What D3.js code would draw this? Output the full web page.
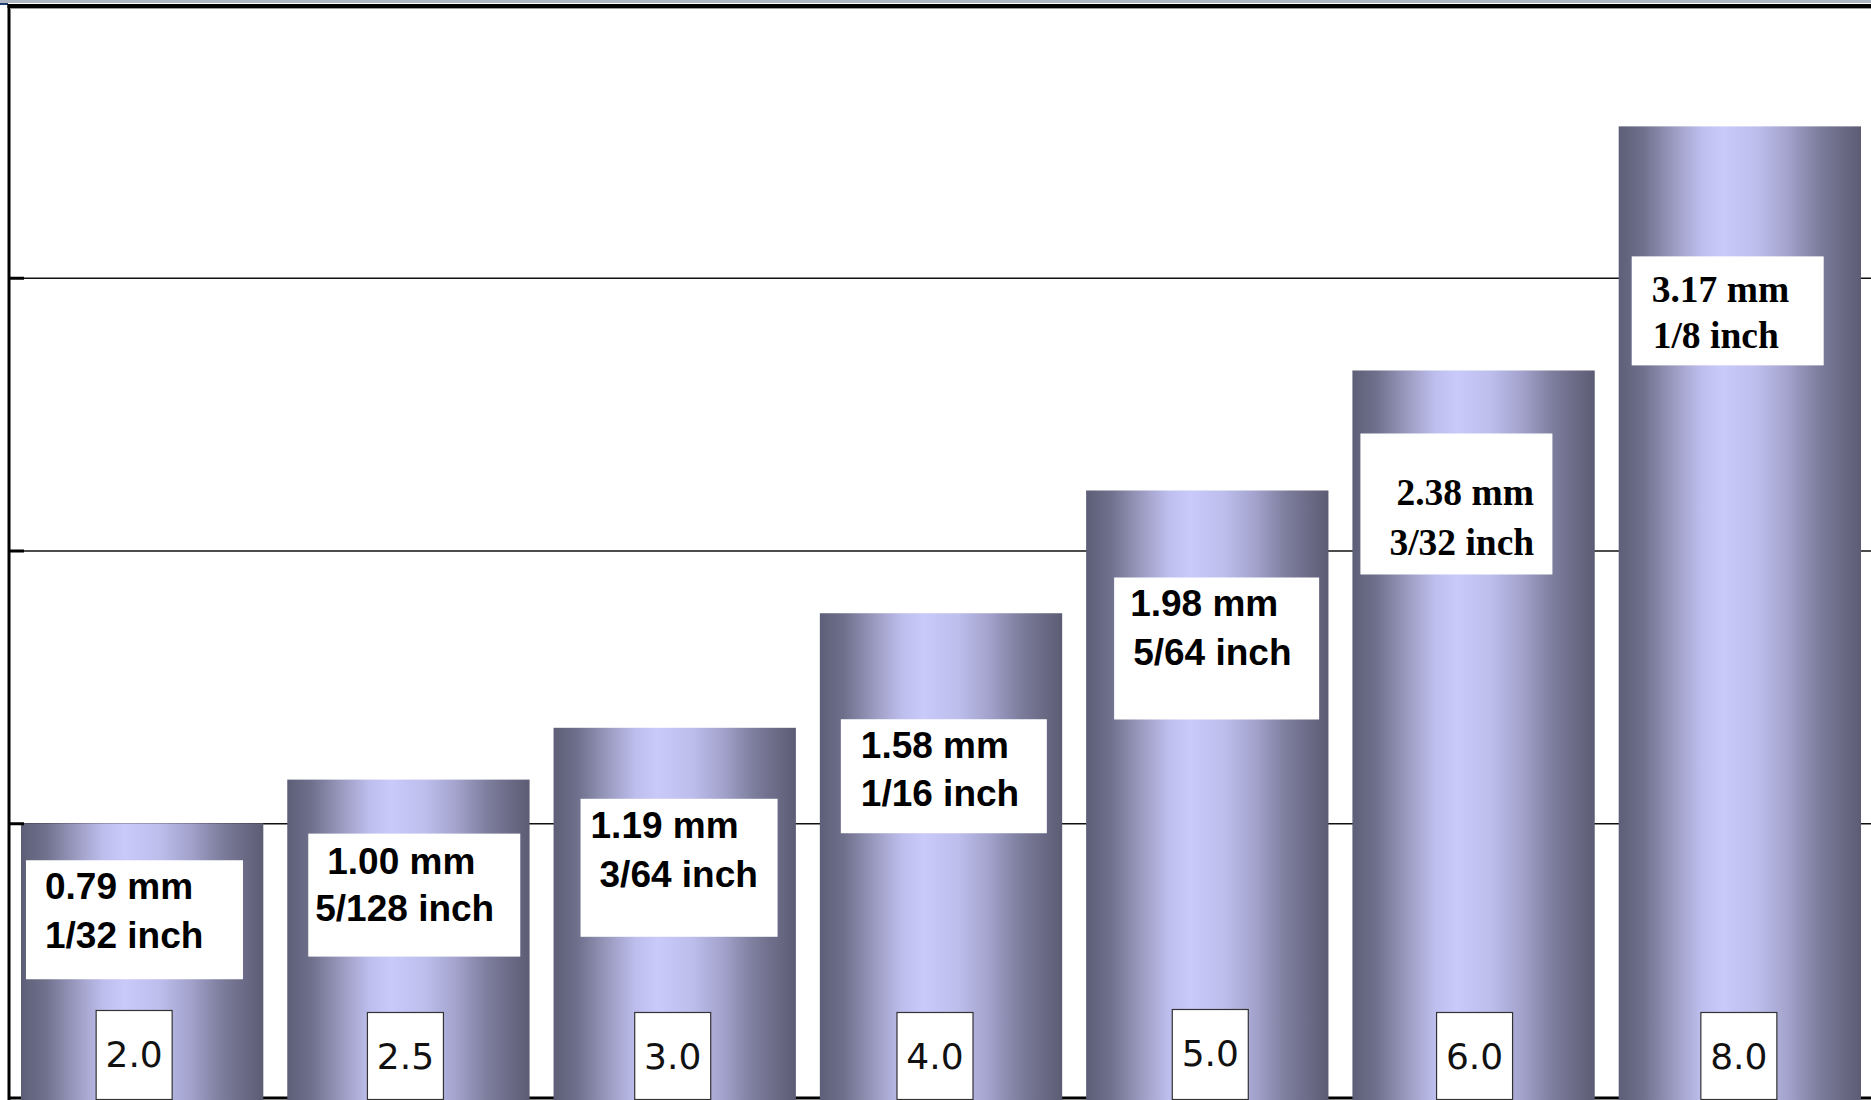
<!DOCTYPE html>
<html>
<head>
<meta charset="utf-8">
<script src="https://cdn.jsdelivr.net/npm/d3@7"></script>
<style>
  html, body { margin: 0; padding: 0; background: #fff; }
  svg { display: block; }
</style>
</head>
<body>
<script>
// data
var sizes = ["2.0", "2.5", "3.0", "4.0", "5.0", "6.0", "8.0"];
var heights = [1.0, 1.16, 1.35, 1.77, 2.22, 2.66, 3.555];
var mmLabels = ["0.79 mm", "1.00 mm", "1.19 mm", "1.58 mm", "1.98 mm", "2.38 mm", "3.17 mm"];
var inchLabels = ["1/32 inch", "5/128 inch", "3/64 inch", "1/16 inch", "5/64 inch", "3/32 inch", "1/8 inch"];
var yTicks = [0, 1, 2, 3, 4];

// layout of the white label boxes: [dx from bar left, dy from bar top, w, h]
var labelBox = [[5, 37, 217, 119], [21, 54, 212, 123], [27, 71, 197, 138], [21, 106, 206, 114],
                [28, 87, 205, 142], [8, 63, 192, 141], [13, 130, 192, 109]];
// text placement inside those boxes: [x1, baseline1, x2, baseline2]
var labelText = [[19, 39, 19, 88], [19, 40, 7, 87], [10, 39, 19, 88], [20, 39, 20, 87],
                 [16, 39, 19, 88], [36, 72, 29, 122], [20, 46, 21, 92]];
var serifLabel = [false, false, false, false, false, true, true];
var sizeBoxDx = [-8, -3, -2, -6, 3, 1, -1];
var sizeBoxTop = [1010, 1012, 1012, 1012, 1009, 1012, 1012];

var width = 1871, height = 1100;

var x = d3.scaleBand()
    .domain(sizes)
    .range([9, 1873])
    .paddingInner(0.09)
    .paddingOuter(0.045);

var y = d3.scaleLinear()
    .domain([0, 4])
    .range([1096, 5]);

var svg = d3.select("body").append("svg")
    .attr("width", width)
    .attr("height", height);

var defs = svg.append("defs");
var grad = defs.append("linearGradient")
    .attr("id", "barGrad")
    .attr("x1", "0").attr("x2", "1").attr("y1", "0").attr("y2", "0");
[[0, "#5d5e77"], [0.1, "#6f708c"], [0.23, "#9c9cc2"], [0.34, "#bebeee"], [0.43, "#c9c9fa"],
 [0.57, "#bebeed"], [0.7, "#a2a2cc"], [0.83, "#7c7c9c"], [1, "#5c5c74"]].forEach(function (s) {
    grad.append("stop").attr("offset", s[0]).attr("stop-color", s[1]);
});

// strip at the very top
svg.append("rect").attr("x", 0).attr("y", 0).attr("width", width).attr("height", 3)
    .attr("fill", "#aeb6c4");
svg.append("rect").attr("x", 0).attr("y", 3).attr("width", 8).attr("height", 2)
    .attr("fill", "#1d3f73");

// gridlines
svg.append("g")
    .attr("class", "grid")
    .attr("transform", "translate(9,0)")
    .call(d3.axisLeft(y).tickValues(yTicks.slice(1, 4)).tickSize(-width).tickFormat(""))
    .call(function (g) { g.select(".domain").remove(); })
    .selectAll("line")
    .attr("stroke", "#111")
    .attr("stroke-width", 1.6);

// bottom axis line
svg.append("line")
    .attr("x1", 9).attr("x2", width)
    .attr("y1", y(0) + 2).attr("y2", y(0) + 2)
    .attr("stroke", "#000").attr("stroke-width", 3);

// bars
var bars = svg.selectAll("g.bar")
    .data(sizes)
    .enter().append("g")
    .attr("class", "bar");

bars.append("rect")
    .attr("x", function (d) { return x(d); })
    .attr("y", function (d, i) { return y(heights[i]); })
    .attr("width", x.bandwidth())
    .attr("height", function (d, i) { return y(0) - y(heights[i]) + 4; })
    .attr("fill", "url(#barGrad)");

// label boxes
bars.append("rect")
    .attr("x", function (d, i) { return x(d) + labelBox[i][0]; })
    .attr("y", function (d, i) { return y(heights[i]) + labelBox[i][1]; })
    .attr("width", function (d, i) { return labelBox[i][2]; })
    .attr("height", function (d, i) { return labelBox[i][3]; })
    .attr("fill", "#fff");

function labelFont(sel) {
    sel.attr("font-family", function (d, i) {
            return serifLabel[i] ? "'Liberation Serif', 'Times New Roman', serif" : "'Liberation Sans', Arial, sans-serif";
        })
        .attr("font-weight", "bold")
        .attr("font-size", function (d, i) { return serifLabel[i] ? 37.5 : 37; })
        .attr("fill", "#000");
}

bars.append("text")
    .attr("x", function (d, i) { return x(d) + labelBox[i][0] + labelText[i][0]; })
    .attr("y", function (d, i) { return y(heights[i]) + labelBox[i][1] + labelText[i][1]; })
    .text(function (d, i) { return mmLabels[i]; })
    .call(labelFont);

bars.append("text")
    .attr("x", function (d, i) { return x(d) + labelBox[i][0] + labelText[i][2]; })
    .attr("y", function (d, i) { return y(heights[i]) + labelBox[i][1] + labelText[i][3]; })
    .text(function (d, i) { return inchLabels[i]; })
    .call(labelFont);

// size boxes at the bottom
var boxW = 76;
bars.append("rect")
    .attr("x", function (d, i) { return x(d) + x.bandwidth() / 2 - boxW / 2 + sizeBoxDx[i]; })
    .attr("y", function (d, i) { return sizeBoxTop[i] + 0.5; })
    .attr("width", boxW)
    .attr("height", function (d, i) { return y(0) + 3 - sizeBoxTop[i]; })
    .attr("fill", "#fff")
    .attr("stroke", "#333")
    .attr("stroke-width", 1.2);

bars.append("text")
    .attr("x", function (d, i) { return x(d) + x.bandwidth() / 2 + sizeBoxDx[i]; })
    .attr("y", function (d, i) { return sizeBoxTop[i] + 57; })
    .attr("text-anchor", "middle")
    .attr("font-family", "'DejaVu Sans', Verdana, sans-serif")
    .attr("font-size", 36)
    .attr("fill", "#111")
    .text(function (d) { return d; });

// left axis with short ticks
svg.append("g")
    .attr("class", "y axis")
    .attr("transform", "translate(9,0)")
    .call(d3.axisLeft(y).tickValues(yTicks.slice(1, 4)).tickSize(-15).tickFormat("").tickSizeOuter(0))
    .call(function (g) {
        g.select(".domain").attr("stroke", "#000").attr("stroke-width", 3)
            .attr("d", "M0," + (y(4) - 1) + "V" + height);
        g.selectAll(".tick line").attr("stroke", "#000").attr("stroke-width", 3);
    });

// top border
svg.append("line")
    .attr("x1", 7.5).attr("x2", width)
    .attr("y1", y(4) + 1).attr("y2", y(4) + 1)
    .attr("stroke", "#000").attr("stroke-width", 4);
svg.append("line")
    .attr("x1", 10).attr("x2", width)
    .attr("y1", y(4) + 3.5).attr("y2", y(4) + 3.5)
    .attr("stroke", "#999").attr("stroke-width", 1);
</script>
</body>
</html>
